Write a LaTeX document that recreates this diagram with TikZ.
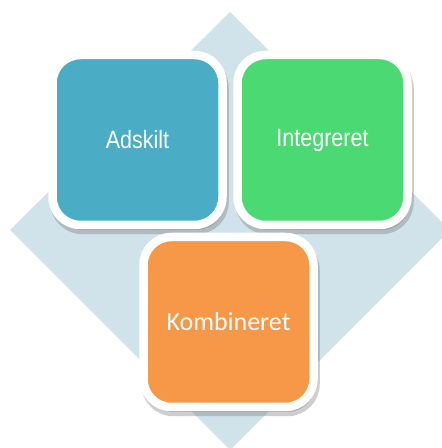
\documentclass[tikz,border=0pt]{standalone}
\usepackage{fontspec}
\usetikzlibrary{positioning,shadows}

\newfontfamily\arialfont[FakeStretch=0.86]{Liberation Sans}
\newfontfamily\calibrifont{Carlito}

\definecolor{diamondbg}{HTML}{D0E2EA}
\definecolor{adskiltblue}{HTML}{4BACC6}
\definecolor{integgreen}{HTML}{4AD973}
\definecolor{kombiorange}{HTML}{F69848}

\begin{document}
\begin{tikzpicture}[x=1pt, y=1pt, node distance=15pt,
	box/.style = {draw=white, line width=8.5pt, rounded corners=28pt, minimum size=170pt,
		inner sep=0pt, outer sep=0pt, text=white,
		drop shadow={shadow xshift=2pt, shadow yshift=-5pt, opacity=0.35, fill=black!55,
			draw=black!55, line width=8.5pt}}]
	\useasboundingbox (0,0) rectangle (442,448);
	\clip (0,0) rectangle (442,448);
	% background diamond
	\fill[diamondbg] (230,436) -- (10,218) -- (230,-2) -- (450,218) -- cycle;
	\node[box, fill = adskiltblue] (adskilt) at (137.5,308) {\arialfont\fontsize{25}{30}\selectfont Adskilt};
	\node[box, fill = integgreen] (integreret) [right = of adskilt] {\arialfont\fontsize{25}{30}\selectfont Integreret};
	\node[box, fill = kombiorange] (kombineret) [below = 12pt of adskilt, xshift = 91pt] {\calibrifont\fontsize{26}{31}\selectfont Kombineret};
\end{tikzpicture}
\end{document}
